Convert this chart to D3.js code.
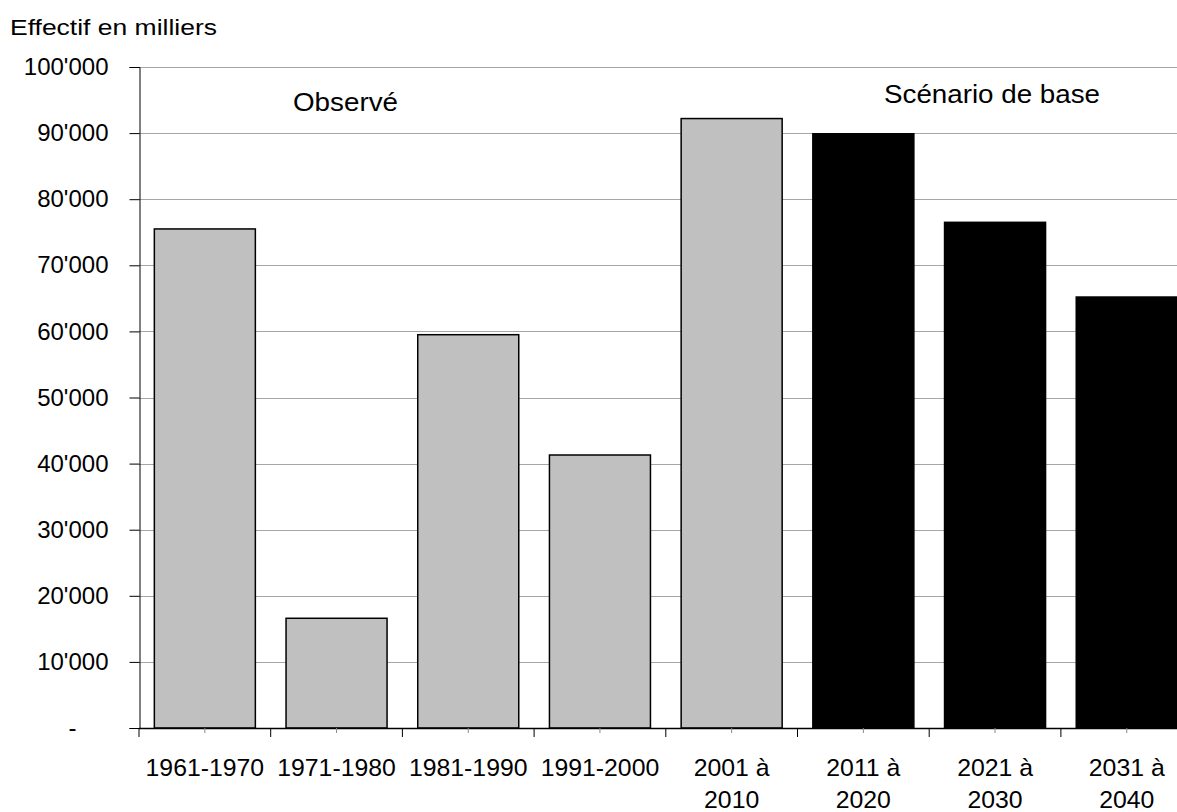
<!DOCTYPE html>
<html>
<head>
<meta charset="utf-8">
<script src="https://cdn.jsdelivr.net/npm/d3@7"></script>
<style>
  html, body { margin: 0; padding: 0; background: #fff; }
  svg { display: block; font-family: "Liberation Sans", Arial, sans-serif; }
</style>
</head>
<body>
<svg id="chart" width="1177" height="812"></svg>
<script>
// Décennies (libellés sur une ou deux lignes)
const categories = ["1961-1970", "1971-1980", "1981-1990", "1991-2000", "2001 à 2010", "2011 à 2020", "2021 à 2030", "2031 à 2040"];
const categoryLines = [["1961-1970"], ["1971-1980"], ["1981-1990"], ["1991-2000"], ["2001 à", "2010"], ["2011 à", "2020"], ["2021 à", "2030"], ["2031 à", "2040"]];
// Effectif en milliers par décennie
const values = [75500, 16600, 59500, 41300, 92200, 89900, 76500, 65200];
// Observé / scénario de base
const kinds = ["obs", "obs", "obs", "obs", "obs", "proj", "proj", "proj"];
const yTicks = [0, 10000, 20000, 30000, 40000, 50000, 60000, 70000, 80000, 90000, 100000];
const yTickLabels = ["-", "10'000", "20'000", "30'000", "40'000", "50'000", "60'000", "70'000", "80'000", "90'000", "100'000"];
const title = "Effectif en milliers";
const groupLabels = ["Observé", "Scénario de base"];

const svg = d3.select("#chart");
const left = 139, step = 131.7, pad = 0.233;
const x = d3.scaleBand().domain(categories)
  .range([left, left + step * categories.length])
  .paddingInner(pad).paddingOuter(pad / 2);
const y = d3.scaleLinear().domain([0, 100000]).range([728, 67]);
const right = left + step * categories.length;

// Quadrillage horizontal
svg.append("g").selectAll("line").data(yTicks.filter(d => d > 0)).join("line")
  .attr("x1", left).attr("x2", right)
  .attr("y1", d => Math.round(y(d)) + 0.5).attr("y2", d => Math.round(y(d)) + 0.5)
  .attr("stroke", "#a6a6a6").attr("stroke-width", 1);

// Barres
svg.append("g").selectAll("rect").data(values).join("rect")
  .attr("x", (d, i) => x(categories[i]))
  .attr("width", x.bandwidth())
  .attr("y", d => y(d))
  .attr("height", d => y(0) - y(d))
  .attr("fill", (d, i) => kinds[i] === "obs" ? "#c0c0c0" : "#000")
  .attr("stroke", "#000").attr("stroke-width", 1.5);

// Axe vertical
const yAxis = d3.axisLeft(y).tickValues(yTicks)
  .tickFormat((d, i) => yTickLabels[i]).tickSize(10).tickPadding(21);
const gy = svg.append("g").attr("transform", `translate(${left + 0.5},0)`).call(yAxis);
gy.select(".domain").attr("stroke", "#000");
gy.selectAll(".tick line").attr("stroke", "#000");
gy.selectAll(".tick text").attr("font-size", 24).attr("fill", "#000")
  .attr("font-family", "Liberation Sans, Arial, sans-serif");
gy.selectAll(".tick").filter(d => d === 0).select("text").attr("dx", -32);

// Axe horizontal
const gx = svg.append("g");
gx.append("line").attr("x1", left).attr("x2", right)
  .attr("y1", y(0) + 0.5).attr("y2", y(0) + 0.5).attr("stroke", "#000").attr("stroke-width", 1.5);
const bounds = categories.map(c => x(c) - x.step() * pad / 2).concat([right]);
gx.selectAll("line.major").data(bounds).join("line").attr("class", "major")
  .attr("x1", d => d).attr("x2", d => d)
  .attr("y1", y(0)).attr("y2", y(0) + 9).attr("stroke", "#000");
gx.selectAll("line.minor").data(categories).join("line").attr("class", "minor")
  .attr("x1", d => x(d) + x.bandwidth() / 2).attr("x2", d => x(d) + x.bandwidth() / 2)
  .attr("y1", y(0)).attr("y2", y(0) + 5).attr("stroke", "#888");
gx.selectAll("text").data(categories).join("text")
  .attr("x", d => x(d) + x.bandwidth() / 2)
  .attr("y", 776)
  .attr("text-anchor", "middle").attr("font-size", 24.8).attr("fill", "#000")
  .each(function(d, i) {
    d3.select(this).selectAll("tspan").data(categoryLines[i]).join("tspan")
      .attr("x", x(d) + x.bandwidth() / 2)
      .attr("dy", (t, j) => j === 0 ? 0 : 32)
      .text(t => t);
  });

// Titre de l'axe
svg.append("text").attr("x", 10).attr("y", 35).attr("font-size", 21.5).attr("fill", "#000")
  .attr("textLength", 207).attr("lengthAdjust", "spacingAndGlyphs").text(title);

// Libellés des périodes
svg.append("text").attr("x", 293).attr("y", 111)
  .attr("font-size", 25).attr("fill", "#000")
  .attr("textLength", 105).attr("lengthAdjust", "spacingAndGlyphs").text(groupLabels[0]);
svg.append("text").attr("x", 884).attr("y", 103)
  .attr("font-size", 25).attr("fill", "#000")
  .attr("textLength", 216).attr("lengthAdjust", "spacingAndGlyphs").text(groupLabels[1]);
</script>
</body>
</html>
